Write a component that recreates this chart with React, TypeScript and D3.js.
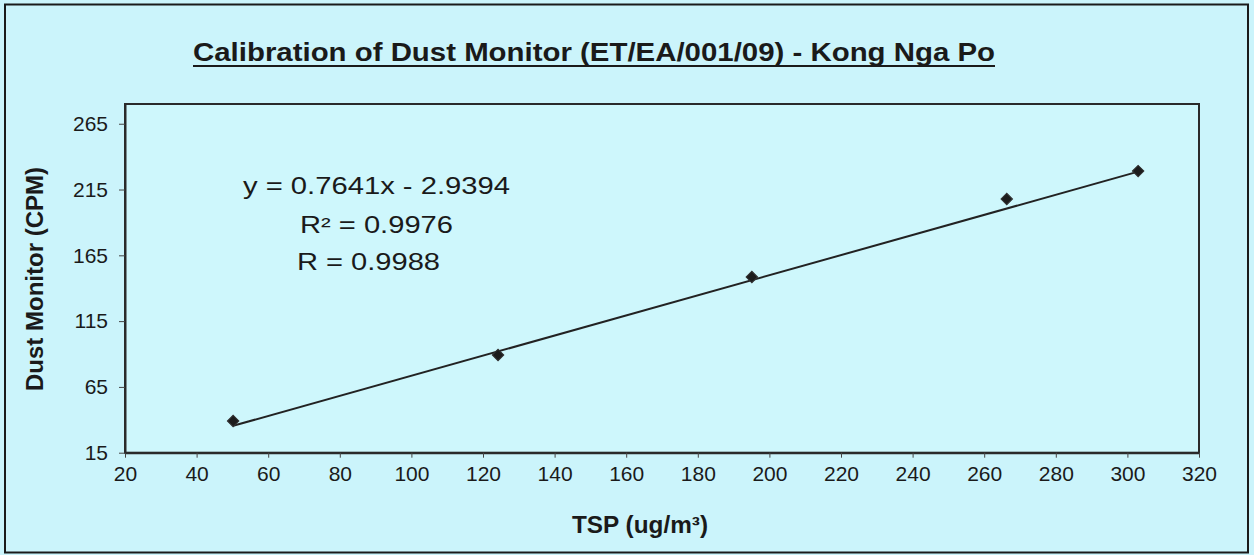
import React, { useEffect, useRef } from "react";
import * as d3 from "d3";

const tspValues = [50.2, 124.2, 195.1, 266.3, 303];
const dustValues = [39.1, 89.2, 148.5, 207.8, 229];
const xTicks = [20, 40, 60, 80, 100, 120, 140, 160, 180, 200, 220, 240, 260, 280, 300, 320];
const yTicks = [15, 65, 115, 165, 215, 265];
const trendSlope = 0.7641;
const trendIntercept = -2.9394;
const equationLines = ["y = 0.7641x - 2.9394", "R² = 0.9976", "R = 0.9988"];
const titleText = "Calibration of Dust Monitor (ET/EA/001/09) - Kong Nga Po";

const W = 1254;
const H = 555;
const bg = "#cbf4fb";
const ink = "#1a1a1a";
const font = "'Liberation Sans', Arial, sans-serif";

export default function App() {
  const svgRef = useRef<SVGSVGElement>(null);

  useEffect(() => {
    const svg = d3.select(svgRef.current);
    svg.selectAll("*").remove();

    const plot = { left: 125, top: 104, right: 1199, bottom: 452.7 };
    const x = d3.scaleLinear().domain([20, 320]).range([plot.left, plot.right]);
    const y = d3.scaleLinear().domain([15, 280]).range([plot.bottom, plot.top]);

    // frame
    svg.append("rect").attr("width", W).attr("height", H).attr("fill", bg);
    svg
      .append("rect")
      .attr("x", 5)
      .attr("y", 4.5)
      .attr("width", 1243)
      .attr("height", 548)
      .attr("fill", "none")
      .attr("stroke", ink)
      .attr("stroke-width", 2);

    // title
    svg
      .append("text")
      .attr("x", 594)
      .attr("y", 61)
      .attr("text-anchor", "middle")
      .attr("font-family", font)
      .attr("font-weight", "bold")
      .attr("font-size", 26)
      .attr("textLength", 802)
      .attr("lengthAdjust", "spacingAndGlyphs")
      .attr("fill", ink)
      .text(titleText);
    svg
      .append("line")
      .attr("x1", 193)
      .attr("x2", 995)
      .attr("y1", 66)
      .attr("y2", 66)
      .attr("stroke", ink)
      .attr("stroke-width", 2);

    // plot area
    svg
      .append("rect")
      .attr("x", plot.left)
      .attr("y", plot.top)
      .attr("width", plot.right - plot.left)
      .attr("height", plot.bottom - plot.top)
      .attr("fill", "#cef7fc")
      .attr("stroke", "#2a2a2a")
      .attr("stroke-width", 2);

    // axes
    const xAxis = d3.axisBottom(x).tickValues(xTicks).tickSize(5).tickPadding(8).tickSizeOuter(0);
    const yAxis = d3.axisLeft(y).tickValues(yTicks).tickSize(6).tickPadding(11).tickSizeOuter(0);

    const gx = svg.append("g").attr("transform", `translate(0,${plot.bottom})`).call(xAxis);
    const gy = svg.append("g").attr("transform", `translate(${plot.left},0)`).call(yAxis);
    [gx, gy].forEach((g) => {
      g.select(".domain").attr("stroke", "#2a2a2a").attr("stroke-width", 2);
      g.selectAll(".tick line").attr("stroke", "#444").attr("stroke-width", 1);
      g.selectAll(".tick text")
        .attr("font-family", font)
        .attr("font-size", 21)
        .attr("fill", ink);
    });

    // axis titles
    svg
      .append("text")
      .attr("x", 640)
      .attr("y", 533)
      .attr("text-anchor", "middle")
      .attr("font-family", font)
      .attr("font-weight", "bold")
      .attr("font-size", 23)
      .attr("textLength", 136)
      .attr("lengthAdjust", "spacingAndGlyphs")
      .attr("fill", ink)
      .text("TSP (ug/m³)");
    svg
      .append("text")
      .attr("transform", "translate(43,279) rotate(-90)")
      .attr("text-anchor", "middle")
      .attr("font-family", font)
      .attr("font-weight", "bold")
      .attr("font-size", 24)
      .attr("fill", ink)
      .text("Dust Monitor (CPM)");

    // trend line
    const x0 = d3.min(tspValues) as number;
    const x1 = d3.max(tspValues) as number;
    svg
      .append("line")
      .attr("x1", x(x0))
      .attr("y1", y(trendSlope * x0 + trendIntercept))
      .attr("x2", x(x1))
      .attr("y2", y(trendSlope * x1 + trendIntercept))
      .attr("stroke", "#222")
      .attr("stroke-width", 2);

    // markers
    const diamond = d3.symbol().type(d3.symbolSquare).size(66);
    svg
      .append("g")
      .selectAll("path")
      .data(tspValues.map((t, i) => [t, dustValues[i]]))
      .join("path")
      .attr("d", diamond)
      .attr("transform", (d) => `translate(${x(d[0])},${y(d[1])}) rotate(45)`)
      .attr("fill", "#1c1c1c")
      .attr("stroke", "#333")
      .attr("stroke-width", 1);

    // equation
    const eq = svg
      .append("g")
      .attr("font-family", font)
      .attr("font-size", 23)
      .attr("fill", ink);
    eq.append("text")
      .attr("x", 243).attr("y", 194)
      .attr("textLength", 267).attr("lengthAdjust", "spacingAndGlyphs")
      .text(equationLines[0]);
    eq.append("text")
      .attr("x", 300).attr("y", 233)
      .attr("textLength", 153).attr("lengthAdjust", "spacingAndGlyphs")
      .text(equationLines[1]);
    eq.append("text")
      .attr("x", 297).attr("y", 270)
      .attr("textLength", 143).attr("lengthAdjust", "spacingAndGlyphs")
      .text(equationLines[2]);
  }, []);

  return (
    <svg
      ref={svgRef}
      width={W}
      height={H}
      style={{ position: "absolute", left: 0, top: 0, display: "block" }}
    />
  );
}
